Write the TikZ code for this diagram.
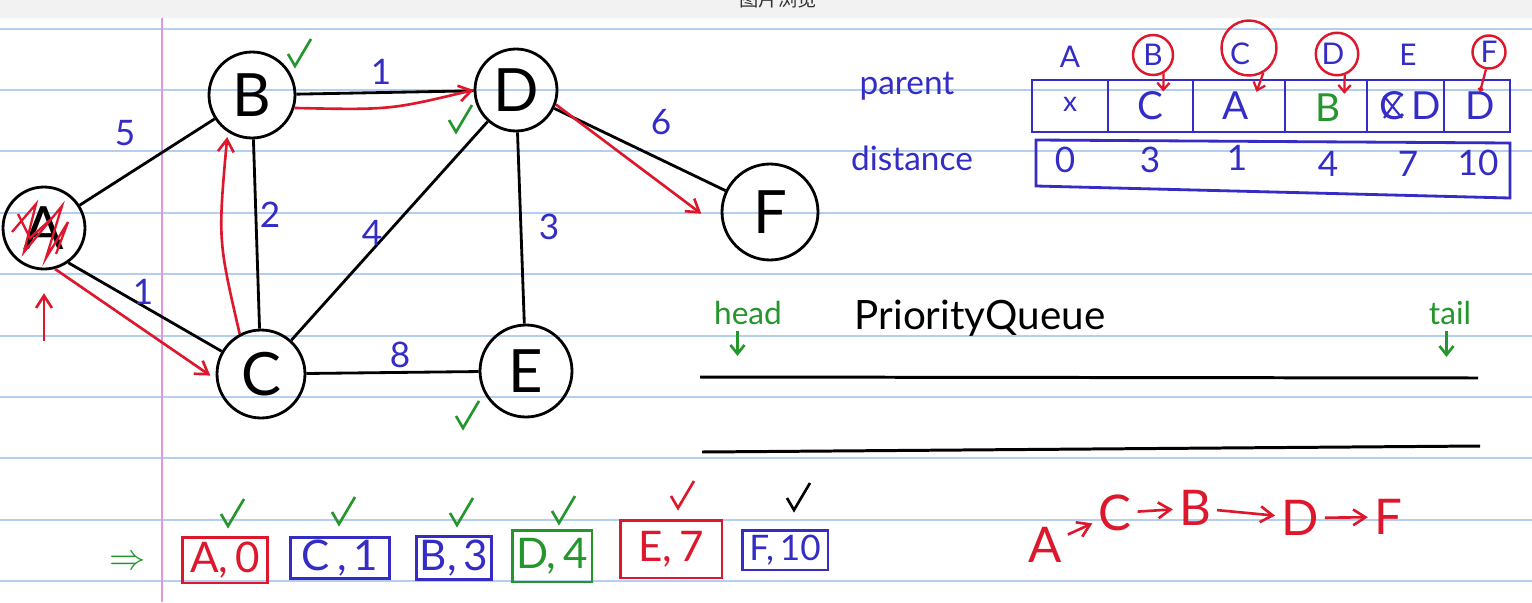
\documentclass[tikz,border=0pt]{standalone}
\usepackage{fontspec}
\setmainfont{Lato}
\newfontfamily\cjk{Noto Sans CJK SC}
\usetikzlibrary{arrows.meta,positioning,calc}
\definecolor{inkblue}{RGB}{52,44,196}
\definecolor{inkred}{RGB}{222,24,44}
\definecolor{inkgreen}{RGB}{36,150,44}
\definecolor{ruleblue}{RGB}{180,206,240}
\definecolor{marginpink}{RGB}{226,150,222}
\definecolor{bargrey}{RGB}{242,242,242}
\tikzset{checkmark/.pic={\draw[line width=1.5pt] (-10,-2) -- (-3,10) -- (13,-17);}}

\begin{document}
\begin{tikzpicture}[x=0.02cm, y=-0.02cm,
    vertex/.style={circle, draw, line width=1.6pt, minimum size=1.72cm, inner sep=0pt,
                   font=\fontsize{34}{38}\selectfont},
    edge/.style={line width=1.6pt},
    weight/.style={text=inkblue, font=\fontsize{20}{24}\selectfont, inner sep=0pt},
    walk/.style={inkred, line width=1.5pt, -{Straight Barb[length=7pt,width=9pt]}},
    head/.style={text=inkblue, font=\fontsize{17}{20}\selectfont, inner sep=0pt},
    cell/.style={text=inkblue, font=\fontsize{22}{26}\selectfont, inner sep=0pt},
    ring/.style={circle, draw=inkred, line width=1.4pt, inner sep=0pt},
    pqbox/.style={draw, line width=1.7pt, font=\fontsize{24}{28}\selectfont, inner sep=0pt},
    pointer/.style={inkgreen, line width=1.5pt, -{Straight Barb[length=5pt,width=8pt]}}
]
    \fill[white] (0,0) rectangle (1532,602);
    \useasboundingbox (0,0) rectangle (1532,602);
    \clip (0,0) rectangle (1532,602);
    % notebook paper
    \fill[bargrey] (0,0) rectangle (1532,18);
    \node[font=\cjk\fontsize{11}{13}\selectfont, text=black!80] (bar) at (778,-1) {图片浏览};
    \foreach \i in {0,...,9}
        \draw[ruleblue, line width=1.2pt] (0,{28.6+61.4*\i}) -- (1532,{28.6+61.4*\i});
    \draw[marginpink, line width=1pt] (162,18) -- (162,602);

    % graph
    \node[vertex, minimum size=1.64cm] (A) at (44,228) {A};
    \node[vertex] (B) at (252,95) {B};
    \node[vertex, minimum size=1.76cm] (C) at (261,374) {C};
    \node[vertex, minimum size=1.64cm] (D) at (516,90) {D};
    \node[vertex, minimum size=1.84cm] (E) at (526,371) {E};
    \node[vertex, minimum size=1.92cm] (F) at (770,212) {F};
    \draw[edge] (A) -- (B);
    \draw[edge] (A.-55) -- (C);
    \draw[edge] (B) -- (C);
    \draw[edge] (B) -- (D);
    \draw[edge] (C) -- (D);
    \draw[edge] (C) -- (E);
    \draw[edge] (D) -- (E);
    \draw[edge] (D) -- (F);
    \node[weight] (wAB) at (125,133) {5};
    \node[weight] (wAC) at (143,292) {1};
    \node[weight] (wBC) at (270,215) {2};
    \node[weight] (wBD) at (381,72) {1};
    \node[weight] (wCD) at (372,233) {4};
    \node[weight] (wCE) at (400,355) {8};
    \node[weight] (wDE) at (549,227) {3};
    \node[weight] (wDF) at (661,122) {6};

    % visiting order
    \draw[inkred, line width=1.3pt] (12,232) -- (36,204) -- (24,252) -- (62,206) -- (46,258) -- (68,222) -- (56,254);
    \draw[inkred, line width=1.3pt] (18,214) -- (30,238) -- (50,220);
    \draw[walk] ([yshift=-40pt]A.south) -- ([yshift=-13pt]A.south);
    \draw[walk] (A.-75) -- ([xshift=-3pt]C.182);
    \draw[walk] (C.118) .. controls (218,240) .. ([yshift=-3pt]B.236);
    \draw[walk] (B.-17) .. controls (390,110) .. (D.180);
    \draw[walk] (D.-20) -- ([xshift=-11pt]F.182);
    \pic[color=inkgreen] at (298,56) {checkmark};
    \pic[color=inkgreen] at (459,122) {checkmark};
    \pic[color=inkgreen] at (466,418) {checkmark};

    % parent / distance table
    \node[head] (hA) at (1070,57) {A};
    \node[head] (hB) at (1153,55) {B};
    \node[head] (hC) at (1240,54) {C};
    \node[head] (hD) at (1333,54) {D};
    \node[head] (hE) at (1408,55) {E};
    \node[head] (hF) at (1489,52) {F};
    \node[ring, minimum size=0.8cm] (ringB) at (hB) {};
    \node[ring, minimum size=1.1cm] (ringC) at (1249,48) {};
    \node[ring, minimum size=0.85cm] (ringD) at (1337,54) {};
    \node[ring, minimum size=0.66cm] (ringF) at (hF) {};
    \node[text=inkblue, font=\fontsize{19}{22}\selectfont] (parent) at (907,86) {parent};
    \node[text=inkblue, font=\fontsize{19}{22}\selectfont] (distance) at (912,158) {distance};
    \draw[inkblue, line width=1.6pt] (1032,80) rectangle (1510,132);
    \foreach \x in {1108,1193,1285,1367,1444}
        \draw[inkblue, line width=1.6pt] (\x,80) -- (\x,132);
    \draw[inkblue, line width=1.6pt] (1036,140) -- (1510,143) -- (1510,198) -- (1036,186) -- cycle;
    \node[cell, font=\fontsize{16}{20}\selectfont] (parA) at (1070,104) {x};
    \node[cell] (parB) at (1150,106) {C};
    \node[cell] (parC) at (1236,106) {A};
    \node[cell, text=inkgreen] (parD) at (1328,108) {B};
    \node[cell] (parE) at (1410,106) {C\,D};
    \node[cell] (parF) at (1480,106) {D};
    \draw[inkblue, line width=1.2pt] (1384,96) -- (1402,118) (1384,118) -- (1400,96);
    \node[cell, font=\fontsize{20}{24}\selectfont] (distA) at (1065,160) {0};
    \node[cell, font=\fontsize{20}{24}\selectfont] (distB) at (1150,160) {3};
    \node[cell, font=\fontsize{20}{24}\selectfont] (distC) at (1237,158) {1};
    \node[cell, font=\fontsize{20}{24}\selectfont] (distD) at (1328,164) {4};
    \node[cell, font=\fontsize{20}{24}\selectfont] (distE) at (1408,164) {7};
    \node[cell, font=\fontsize{20}{24}\selectfont] (distF) at (1478,163) {10};
    \draw[inkred, line width=1.3pt, -{Straight Barb[length=4pt,width=7pt]}] (ringB.-60) -- (parB.north east);
    \draw[inkred, line width=1.3pt, -{Straight Barb[length=4pt,width=7pt]}] (ringC.-60) -- ([xshift=4pt]parC.north east);
    \draw[inkred, line width=1.3pt, -{Straight Barb[length=4pt,width=7pt]}] (ringD.-70) -- ([xshift=2pt]parD.north east);
    \draw[inkred, line width=1.3pt, -{Circle[length=3pt]}] (ringF.-100) -- (parF.north);

    % priority queue
    \node[text=inkgreen, font=\fontsize{18}{22}\selectfont] (qhead) at (748,313) {head};
    \node[text=inkgreen, font=\fontsize{18}{22}\selectfont] (qtail) at (1450,313) {tail};
    \node[font=\fontsize{23}{27}\selectfont] (pq) at (980,318) {PriorityQueue};
    \coordinate (topL) at (700,377);
    \coordinate (topR) at (1478,378);
    \coordinate (botL) at (702,452);
    \coordinate (botR) at (1480,446);
    \draw[line width=1.7pt] (topL) -- (topR);
    \draw[line width=1.7pt] (botL) -- (botR);
    \draw[pointer] ([xshift=-6pt]qhead.south) -- ([xshift=-6pt,yshift=12pt]topL -| qhead.south);
    \draw[pointer] ([xshift=-2pt]qtail.south) -- ([xshift=-2pt,yshift=12pt]topR -| qtail.south);

    % popped entries
    \node[text=inkgreen, font=\fontsize{20}{24}\selectfont] (start) at (128,563) {$\Rightarrow$};
    \node[pqbox, draw=inkred, text=inkred, minimum width=1.7cm, minimum height=0.92cm] (qA) at (225,560) {A,\,0};
    \node[pqbox, draw=inkblue, text=inkblue, minimum width=1.98cm, minimum height=0.82cm] (qC) at (340,558) {C\,,\,1};
    \node[pqbox, draw=inkblue, text=inkblue, minimum width=1.5cm, minimum height=0.86cm] (qB) at (454,558) {B,\,3};
    \node[pqbox, draw=inkgreen, text=inkgreen, minimum width=1.6cm, minimum height=1.04cm] (qD) at (552,556) {D,\,4};
    \node[pqbox, draw=inkred, text=inkred, minimum width=2.04cm, minimum height=1.16cm] (qE) at (671,549) {E,\,7};
    \node[pqbox, draw=inkblue, text=inkblue, minimum width=1.72cm, minimum height=0.8cm,
          font=\fontsize{20}{24}\selectfont] (qF) at (785,550) {F,\,10};
    \pic[color=inkgreen] at (231,516) {checkmark};
    \pic[color=inkgreen] at (342,514) {checkmark};
    \pic[color=inkgreen] at (460,515) {checkmark};
    \pic[color=inkgreen] at (562,513) {checkmark};
    \pic[color=inkred] at (681,498) {checkmark};
    \pic[color=black] at (797,500) {checkmark};

    % shortest path to F
    \node[text=inkred, font=\fontsize{28}{32}\selectfont] (pA) at (1045,545) {A};
    \node[text=inkred, font=\fontsize{28}{32}\selectfont] (pC) at (1115,513) {C};
    \node[text=inkred, font=\fontsize{28}{32}\selectfont] (pB) at (1195,508) {B};
    \node[text=inkred, font=\fontsize{28}{32}\selectfont] (pD) at (1300,518) {D};
    \node[text=inkred, font=\fontsize{28}{32}\selectfont] (pF) at (1388,517) {F};
    \draw[walk] (pA) -- (pC);
    \draw[walk] (pC) -- (pB);
    \draw[walk] (pB) -- (pD);
    \draw[walk] (pD) -- (pF);
\end{tikzpicture}
\end{document}
